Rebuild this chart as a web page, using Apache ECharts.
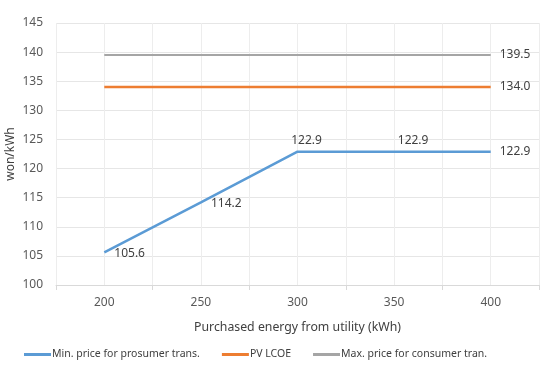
<!DOCTYPE html>
<html>
<head>
<meta charset="utf-8">
<script src="https://cdn.jsdelivr.net/npm/echarts@6/dist/echarts.min.js"></script>
<style>html,body{margin:0;padding:0;background:#fff}#c{width:544px;height:383px}</style>
</head>
<body>
<div id="c"></div>
<script>
var xValues = [200, 250, 300, 350, 400];
var minPrice = [105.6, 114.2, 122.9, 122.9, 122.9];
var pvLcoe = [134.0, 134.0, 134.0, 134.0, 134.0];
var maxPrice = [139.5, 139.5, 139.5, 139.5, 139.5];
var seriesNames = ['Min. price for prosumer trans.', 'PV LCOE', 'Max. price for consumer tran.'];
var yTicks = [100, 105, 110, 115, 120, 125, 130, 135, 140, 145];
var xTickLabels = [200, 250, 300, 350, 400];
var yAxisTitle = 'won/kWh';

var FONT = 'Noto Sans';
var chart = echarts.init(document.getElementById('c'), null, {renderer: 'canvas'});

function pairs(vals) { return xValues.map(function (x, i) { return [x, vals[i]]; }); }

var blueLabels = [
  {position: 'right', distance: 10, offset: [0, 1]},
  {position: 'right', distance: 10, offset: [0, 1]},
  {position: 'top', distance: 5, offset: [9, 0]},
  {position: 'top', distance: 5, offset: [19, 0]},
  {position: 'right', distance: 9, offset: [0, 0]}
];
var labelStyle = {show: true, color: '#404040', fontSize: 12, fontFamily: FONT, formatter: function (p) { return p.value[1].toFixed(1); }};

var blueData = pairs(minPrice).map(function (d, i) {
  return {value: d, label: Object.assign({}, labelStyle, blueLabels[i])};
});
function endLabelData(vals) {
  return pairs(vals).map(function (d, i) {
    if (i === vals.length - 1) return {value: d, label: Object.assign({}, labelStyle, {position: 'right', distance: 9})};
    return {value: d, label: {show: false}};
  });
}

chart.setOption({
  animation: false,
  backgroundColor: '#fff',
  grid: {left: 56, right: 5, top: 23, bottom: 98, containLabel: false, outerBoundsMode: 'none'},
  graphic: [{
    type: 'text', x: 11, y: 154, rotation: Math.PI / 2,
    style: {text: yAxisTitle, fill: '#404040', font: '12px "Noto Sans"', align: 'center', verticalAlign: 'middle'}
  }],
  legend: {
    bottom: 18, left: 19, itemWidth: 27, itemHeight: 3, itemGap: 22,
    icon: 'rect',
    textStyle: {color: '#404040', fontSize: 10.5, fontFamily: FONT, padding: [0, 0, 0, -4]},
    data: seriesNames
  },
  xAxis: [{
    type: 'value', min: 175, max: 425, interval: 25,
    name: 'Purchased energy from utility (kWh)', nameLocation: 'middle', nameGap: 36,
    nameTextStyle: {color: '#404040', fontSize: 12.3, fontFamily: FONT},
    axisLine: {show: true, lineStyle: {color: '#D9D9D9'}},
    axisTick: {show: false},
    splitLine: {show: true, lineStyle: {color: '#EDEDED'}},
    axisLabel: {
      color: '#595959', fontSize: 12, fontFamily: FONT, margin: 12,
      formatter: function (v) { return xTickLabels.indexOf(v) >= 0 ? String(v) : ''; }
    }
  }, {
    type: 'value', min: 175, max: 425, interval: 50, position: 'bottom',
    axisLine: {show: false},
    axisTick: {show: true, length: 5, lineStyle: {color: '#D9D9D9'}},
    axisLabel: {show: false}, splitLine: {show: false}
  }],
  yAxis: {
    type: 'value', min: yTicks[0], max: yTicks[yTicks.length - 1], interval: 5,
    axisLine: {show: false}, axisTick: {show: false},
    splitLine: {show: true, lineStyle: {color: '#E6E6E6'}},
    axisLabel: {color: '#595959', fontSize: 12, fontFamily: FONT, margin: 13}
  },
  series: [{
    name: seriesNames[0], type: 'line', xAxisIndex: 0, data: blueData,
    symbol: 'circle', symbolSize: 0, showSymbol: true,
    lineStyle: {color: '#5B9BD5', width: 2.5}, itemStyle: {color: '#5B9BD5'}
  }, {
    name: seriesNames[1], type: 'line', xAxisIndex: 0, data: endLabelData(pvLcoe),
    symbol: 'circle', symbolSize: 0, showSymbol: true,
    lineStyle: {color: '#ED7D31', width: 2.5}, itemStyle: {color: '#ED7D31'}
  }, {
    name: seriesNames[2], type: 'line', xAxisIndex: 0, data: endLabelData(maxPrice),
    symbol: 'circle', symbolSize: 0, showSymbol: true,
    lineStyle: {color: '#A5A5A5', width: 1.8}, itemStyle: {color: '#A5A5A5'}
  }]
});
</script>
</body>
</html>
